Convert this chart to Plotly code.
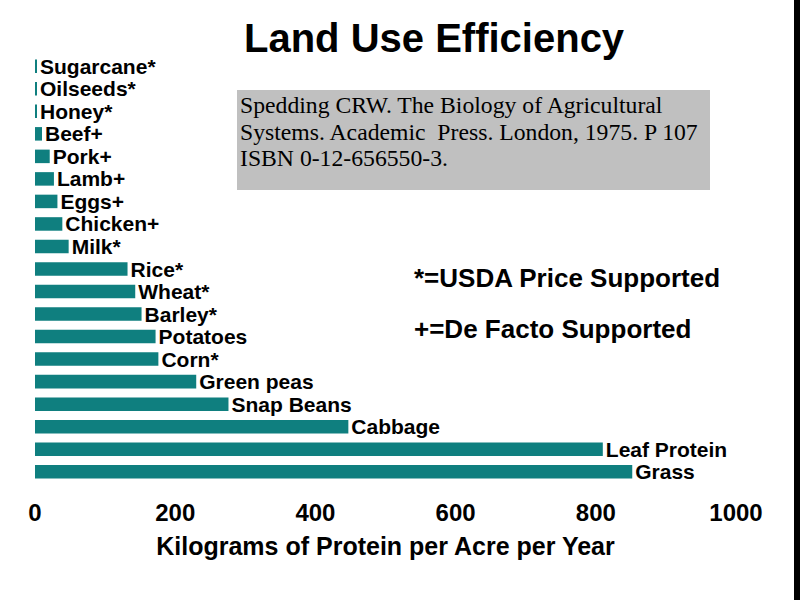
import plotly.graph_objects as go

# Land use efficiency, kg protein per acre per year
crops = ["Sugarcane*", "Oilseeds*", "Honey*", "Beef+", "Pork+", "Lamb+", "Eggs+",
         "Chicken+", "Milk*", "Rice*", "Wheat*", "Barley*", "Potatoes", "Corn*",
         "Green peas", "Snap Beans", "Cabbage", "Leaf Protein", "Grass"]
protein = [2, 2, 2, 10, 21, 27, 32, 39, 48, 132, 143, 152, 172, 176,
           230, 276, 447, 810, 852]
tick_vals = [0, 200, 400, 600, 800, 1000]
source_lines = ["Spedding CRW. The Biology of Agricultural",
                "Systems. Academic\u00a0 Press. London, 1975. P 107",
                "ISBN 0-12-656550-3."]
notes = ["*=USDA Price Supported", "+=De Facto Supported"]

W, H = 800, 600
L, R, T, B = 35, 64, 55, 117
pw, ph = W - L - R, H - T - B


def px(x):
    return (x - L) / pw


def py(y):
    return (H - B - y) / ph


teal = "#0f7f7f"
bold = "Arial, Liberation Sans, sans-serif"
narrow = "Liberation Sans Narrow, Arial Narrow, Liberation Sans, sans-serif"
serif = "Liberation Serif, Times New Roman, serif"

fig = go.Figure(go.Bar(
    x=protein, y=crops, orientation="h",
    marker=dict(color=teal, line=dict(width=0)),
    text=crops, textposition="outside", constraintext="none", cliponaxis=False,
    textfont=dict(family=bold, size=21, color="black", weight="bold"),
    width=0.6,
))

fig.update_xaxes(range=[0, 1000], tickvals=tick_vals, showgrid=False, zeroline=False,
                 showline=False, ticks="", ticklabelstandoff=13,
                 tickfont=dict(family=narrow, size=24, color="black", weight="bold"),
                 title=dict(text="Kilograms of Protein per Acre per Year", standoff=12,
                            font=dict(family=narrow, size=25, color="black", weight="bold")))
fig.update_yaxes(autorange="reversed", showticklabels=False, showgrid=False,
                 zeroline=False, showline=False, ticks="")

ann = [dict(text="Land Use Efficiency", x=px(434), y=py(38), xref="paper", yref="paper",
            xanchor="center", yanchor="middle", showarrow=False,
            font=dict(family=bold, size=40, color="black", weight="bold"))]
for i, line in enumerate(source_lines):
    ann.append(dict(text=line, x=px(238), y=py(105 + 26.5 * i), xref="paper", yref="paper",
                    xanchor="left", yanchor="middle", showarrow=False,
                    font=dict(family=serif, size=23.7, color="black")))
for i, note in enumerate(notes):
    ann.append(dict(text=note, x=px(412), y=py(278 + 51 * i), xref="paper", yref="paper",
                    xanchor="left", yanchor="middle", showarrow=False,
                    font=dict(family=bold, size=26, color="black", weight="bold")))

shapes = [
    dict(type="rect", xref="paper", yref="paper", x0=px(237), x1=px(710), y0=py(90), y1=py(190),
         fillcolor="#c0c0c0", line=dict(width=0), layer="below"),
    dict(type="rect", xref="paper", yref="paper", x0=px(794), x1=px(802), y0=py(-2), y1=py(602),
         fillcolor="black", line=dict(width=0)),
]

fig.update_layout(width=W, height=H, margin=dict(l=L, r=R, t=T, b=B),
                  plot_bgcolor="white", paper_bgcolor="white", showlegend=False,
                  annotations=ann, shapes=shapes)

# drop the page's default body margin so the figure sits at the window corner
fig.write_html("out.html", config={"displayModeBar": False},
               post_script="document.body.style.margin='0';")
